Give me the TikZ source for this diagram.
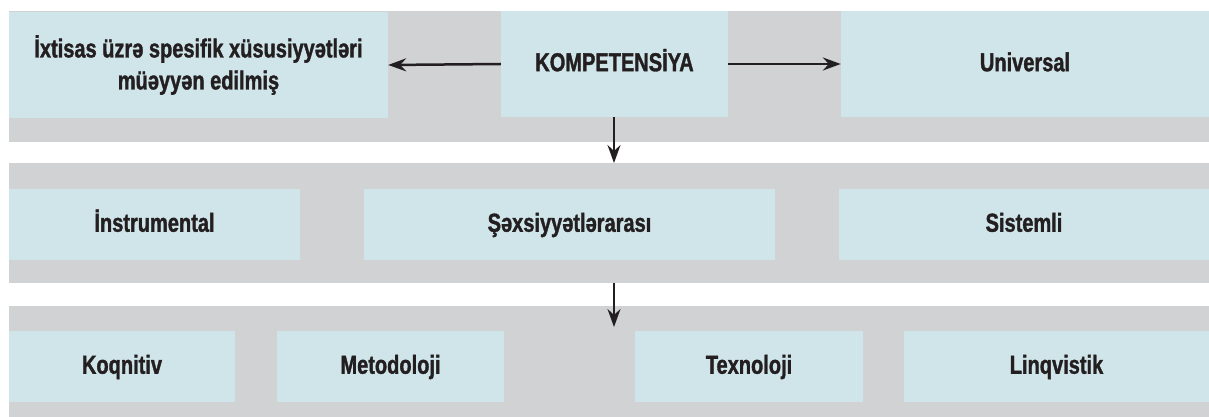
\documentclass[tikz,border=0pt]{standalone}
\usepackage{fontspec}
\setmainfont{Liberation Sans}[FakeStretch=0.77,BoldFeatures={FakeBold=1.3}]
\usetikzlibrary{arrows.meta}
\definecolor{boxblue}{HTML}{D0E5EA}
\definecolor{bandgrey}{HTML}{D1D2D4}
\definecolor{txt}{HTML}{231F20}
\begin{document}
\begin{tikzpicture}[x=1pt,y=-1pt,
  band/.style={fill=bandgrey,draw=none},
  cbox/.style={fill=boxblue,draw=none,inner sep=0pt,align=center,text=txt,
    font=\fontsize{26}{32}\selectfont\bfseries},
  onel/.style={cbox,text height=18.5pt,text depth=4pt},
  conn/.style={line width=2.5pt,draw=txt,-{Stealth[length=18pt,width=13pt,inset=6pt]}}]
\useasboundingbox (0,0) rectangle (1209,417);
% bands
\fill[band] (9,11) rectangle (1209,142);
\fill[band] (9,163) rectangle (1209,283);
\fill[band] (9,306) rectangle (1209,417);
% row 1
\node[cbox,minimum width=379pt,minimum height=106pt] (spec) at (198.5,65) {İxtisas üzrə spesifik xüsusiyyətləri\\müəyyən edilmiş};
\node[onel,minimum width=227pt,minimum height=106pt] (komp) at (614.5,64) {KOMPETENSİYA};
\node[onel,minimum width=368pt,minimum height=106pt] (univ) at (1025,64) {Universal};
% row 2
\node[onel,minimum width=291pt,minimum height=71pt] (instr) at (154.5,224.5) {İnstrumental};
\node[onel,minimum width=411pt,minimum height=71pt] (sexs) at (569.5,224.5) {Şəxsiyyətlərarası};
\node[onel,minimum width=370pt,minimum height=71pt] (sist) at (1024,224.5) {Sistemli};
% row 3
\node[onel,minimum width=226pt,minimum height=71pt] (koq) at (122,366.5) {Koqnitiv};
\node[onel,minimum width=227pt,minimum height=71pt] (met) at (390.5,366.5) {Metodoloji};
\node[onel,minimum width=228pt,minimum height=71pt] (tex) at (749,366.5) {Texnoloji};
\node[onel,minimum width=305pt,minimum height=71pt] (linq) at (1056.5,366.5) {Linqvistik};
% connectors
\coordinate (a1) at (614,163);
\coordinate (a2s) at (614,283);
\coordinate (a2e) at (614,327);
\draw[conn] (komp.west) -- (spec.east);
\draw[conn] (komp.east) -- (univ.west);
\draw[conn] (komp.south -| a1) -- (a1);
\draw[conn] (a2s) -- (a2e);
\end{tikzpicture}
\end{document}
